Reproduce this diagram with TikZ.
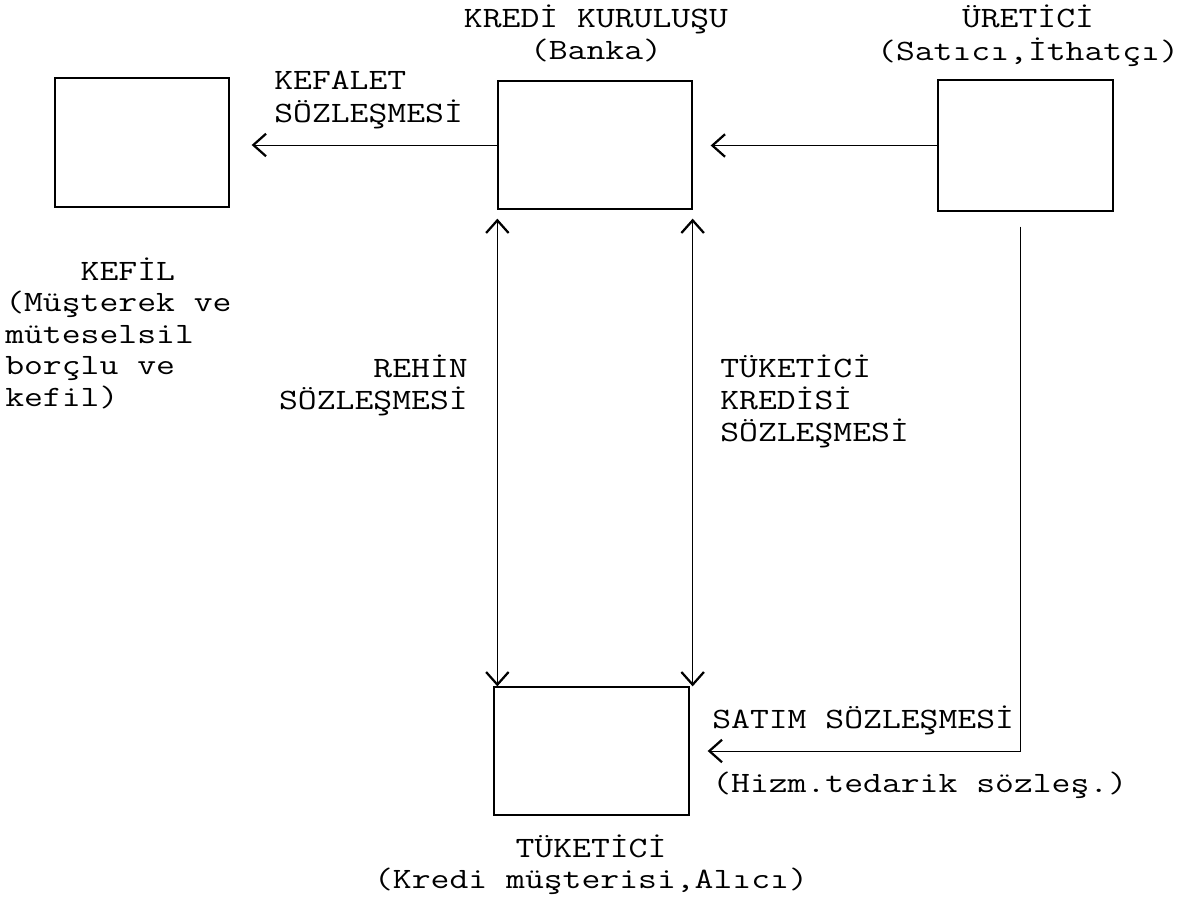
\documentclass[tikz,border=0pt]{standalone}
\usepackage{graphicx}
\usetikzlibrary{arrows.meta}
\usetikzlibrary{calc}

\newcommand{\yazi}[2][c]{\scalebox{1.24}[1]{\begin{tabular}[t]{@{}#1@{}}#2\end{tabular}}}

\tikzset{
  kutu/.style={draw, line width=0.9pt, inner sep=0pt},
  etiket/.style={inner sep=0pt, font=\ttfamily\fontsize{21}{22.5}\selectfont},
  ok/.style={line width=0.7pt, -{Straight Barb[length=9pt,width=16pt,line width=1.6pt]}},
  cift/.style={line width=0.7pt, {Straight Barb[length=9pt,width=16pt,line width=1.6pt]}-{Straight Barb[length=9pt,width=16pt,line width=1.6pt]}}
}

\begin{document}
\begin{tikzpicture}[x=0.025cm,y=-0.025cm]
\useasboundingbox (0,0) rectangle (1197,900);

\node[kutu, minimum width=4.35cm, minimum height=3.225cm] (kefil) at (142,142.5) {};
\node[kutu, minimum width=4.85cm, minimum height=3.2cm] (kredi) at (595,145) {};
\node[kutu, minimum width=4.375cm, minimum height=3.275cm] (uretici) at (1025.5,145.5) {};
\node[kutu, minimum width=4.875cm, minimum height=3.2cm] (tuketici) at (591.5,751) {};

\node[etiket, anchor=base] (kredibaslik) at (596,28) {\yazi{KREDİ KURULUŞU\\(Banka)}};
\node[etiket, anchor=base] (ureticibaslik) at (1028,28) {\yazi{ÜRETİCİ\\(Satıcı,İthatçı)}};
\node[etiket, anchor=base west] (kefaletyazi) at (274,90) {\yazi[l]{KEFALET\\SÖZLEŞMESİ}};
\node[etiket, anchor=base west] (kefilyazi) at (5,280) {\yazi[l]{~~~~KEFİL\\(Müşterek ve\\müteselsil\\borçlu ve\\kefil)}};
\node[etiket, anchor=base east] (rehinyazi) at (468,377) {\yazi[r]{REHİN\\SÖZLEŞMESİ}};
\node[etiket, anchor=base west] (tkyazi) at (720,377) {\yazi[l]{TÜKETİCİ\\KREDİSİ\\SÖZLEŞMESİ}};
\node[etiket, anchor=base west] (satimyazi) at (712,728) {\yazi{SATIM SÖZLEŞMESİ}};
\node[etiket, anchor=base west] (hizmyazi) at (712,792) {\yazi{(Hizm.tedarik sözleş.)}};
\node[etiket, anchor=base] (tuketicibaslik) at (591,857) {\yazi{TÜKETİCİ\\(Kredi müşterisi,Alıcı)}};

\draw[ok, shorten >=0.55cm] (kredi.west) -- (kredi.west -| kefil.east);
\draw[ok, shorten >=0.45cm] (uretici.west) -- (uretici.west -| kredi.east);
\draw[cift, shorten <=0.225cm] (kredi.south west) -- (kredi.south west |- tuketici.north);
\draw[cift, shorten <=0.225cm] (kredi.south east) -- (kredi.south east |- tuketici.north);

\coordinate (ust) at ($(uretici.south)+(-5,15)$);
\coordinate (kose) at (ust |- tuketici.east);
\draw[ok, shorten >=0.45cm] (ust) -- (kose) -- (kose -| tuketici.east);
\end{tikzpicture}
\end{document}
